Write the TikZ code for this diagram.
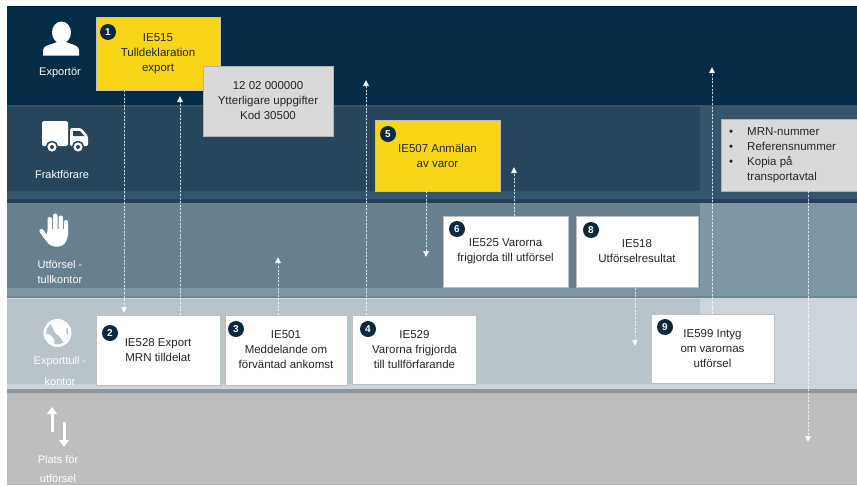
\documentclass[tikz,border=0pt]{standalone}
\usepackage{fontspec}
\setmainfont{Liberation Sans}
\usetikzlibrary{arrows.meta}
\definecolor{navy}{HTML}{052C46}
\definecolor{laneBo}{HTML}{34556B}
\definecolor{laneBi}{HTML}{27465C}
\definecolor{laneBl}{HTML}{22415A}
\definecolor{laneCo}{HTML}{7F97A4}
\definecolor{laneCi}{HTML}{687F8D}
\definecolor{laneCl}{HTML}{6E8696}
\definecolor{laneDo}{HTML}{CDD5DB}
\definecolor{laneDi}{HTML}{B9C3CA}
\definecolor{laneDl}{HTML}{8C979F}
\definecolor{laneE}{HTML}{BEBEBE}
\definecolor{boxyellow}{HTML}{F8D517}
\definecolor{boxgray}{HTML}{D9D9D9}
\definecolor{badgecol}{HTML}{0B2A42}
\definecolor{txtcol}{HTML}{262626}
\begin{document}
\begin{tikzpicture}[x=1pt,y=-1pt,
  boxtext/.style={align=center,text=txtcol,font=\fontsize{11.5}{15}\selectfont,inner sep=0pt},
  ybox/.style={boxtext,fill=boxyellow,draw=black!25,line width=0.6pt},
  gbox/.style={boxtext,fill=boxgray,draw=black!30,line width=0.6pt},
  wbox/.style={boxtext,fill=white,draw=black!25,line width=0.6pt},
  badge/.style={circle,fill=badgecol,text=white,font=\bfseries\fontsize{10}{10}\selectfont,inner sep=0pt,minimum size=16pt},
  lanelbl/.style={text=white,font=\fontsize{11}{13}\selectfont,inner sep=0pt},
  flow/.style={draw=white,draw opacity=0.75,fill=white,line width=0.8pt,dash pattern=on 2pt off 1.6pt,-{Triangle[length=6pt,width=6pt]}},
  iconarrow/.style={white,line width=3pt,-{Triangle[length=7pt,width=10pt]}}]
\useasboundingbox (0,0) rectangle (857,485);
\fill[white] (0,0) rectangle (857,485);
% lanes
\fill[navy] (7,6) rectangle (857,105);
\fill[laneBo] (7,105) rectangle (857,202);
\fill[laneBi] (7,107) rectangle (700,191);
\fill[laneBl] (7,199) rectangle (857,202.5);
\fill[laneCo] (7,202.5) rectangle (857,297);
\fill[laneCi] (7,203) rectangle (700,288);
\fill[laneCl] (7,295.5) rectangle (857,297.5);
\fill[laneDo] (7,297.5) rectangle (857,392);
\fill[laneDi] (7,299) rectangle (700,384);
\fill[laneDl] (7,389) rectangle (857,393);
\fill[laneE] (7,393) rectangle (857,485);
% icon: person
\fill[white] (61.5,32.5) ellipse [x radius=9.5, y radius=11];
\fill[white] (43,55.5) -- (43,50.5) .. controls (43,46.5) and (47,45.5) .. (53,43.5) -- (57,42) -- (66,42) -- (70,43.5) .. controls (76,45.5) and (79,46.5) .. (79,50.5) -- (79,55.5) -- cycle;
% icon: truck
\fill[white,rounded corners=1.5pt] (42,121) rectangle (68,146);
\fill[white,rounded corners=1.5pt] (70,128) -- (81,128) -- (88,136) -- (88,146) -- (70,146) -- cycle;
\fill[laneBi] (73,131) -- (80,131) -- (84.5,136) -- (73,136) -- cycle;
\filldraw[fill=white,draw=laneBi,line width=1.5pt] (52,147) circle (5.5) (78,147) circle (5.5);
\fill[laneBi] (52,147) circle (2) (78,147) circle (2);
% icon: hand
\fill[white,rounded corners=2pt] (47.5,217) rectangle (52,236);
\fill[white,rounded corners=2pt] (53,213.5) rectangle (57.5,236);
\fill[white,rounded corners=2pt] (58.5,215.5) rectangle (63,236);
\fill[white,rounded corners=2pt] (64,220) rectangle (68,237);
\fill[white,rounded corners=4pt] (47.5,229) -- (68,229) -- (68,238) -- (63,246.5) -- (51,246.5) -- (45,240) -- (47.5,234) -- cycle;
\draw[white,line width=4.2pt,line cap=round] (48,240) -- (41.5,231);
% icon: globe
\fill[white] (57.5,333) circle (14);
\begin{scope}
\clip (57.5,333) circle (11.3);
\fill[laneDi] (57.5,333) circle (11.3);
\fill[white,rounded corners=2pt] (50,322) -- (61,320) -- (69,326) -- (65,331) -- (69,337) -- (63,343) -- (60,336) -- (55,333.5) -- (53,328) -- cycle;
\fill[white,rounded corners=2pt] (45,333) -- (51,335) -- (55,341) -- (53,347) -- (45,341) -- cycle;
\end{scope}
% icon: arrows
\draw[iconarrow] (52,432) -- (52,407);
\draw[iconarrow] (64,422) -- (64,447);
% lane labels
\node[lanelbl] (l1) at (60,73) {Exportör};
\node[lanelbl] (l2) at (62,175) {Fraktförare};
\node[lanelbl] (l3a) at (60,264.5) {Utförsel -};
\node[lanelbl] (l3b) at (60,280) {tullkontor};
\node[lanelbl] (l4a) at (60,362) {Exporttull -};
\node[lanelbl] (l4b) at (60,382) {kontor};
\node[lanelbl] (l5a) at (58,460) {Plats för};
\node[lanelbl] (l5b) at (58,479) {utförsel};
% boxes
\node[ybox,minimum width=124pt,minimum height=73pt] (b1) at (158,53.5) {IE515\\Tulldeklaration\\export};
\node[gbox,minimum width=130pt,minimum height=70pt] (g1) at (268,101) {12 02 000000\\Ytterligare uppgifter\\Kod 30500};
\node[ybox,minimum width=125pt,minimum height=71pt] (b5) at (437.5,155.5) {IE507 Anmälan\\av varor};
\node[gbox,anchor=west,minimum width=145pt,minimum height=72pt] (g2) at (721,155) {};
\node[boxtext,anchor=west] (g2t) at (729,154.5) {\begin{tabular}{@{}l@{\hspace{14pt}}l@{}}\textbullet & MRN-nummer\\ \textbullet & Referensnummer\\ \textbullet & Kopia på\\ & transportavtal\end{tabular}};
\node[wbox,minimum width=125pt,minimum height=71pt] (b6) at (505.5,251.5) {IE525 Varorna\\frigjorda till utförsel};
\node[wbox,minimum width=122pt,minimum height=71pt] (b8) at (637,251.5) {IE518\\Utförselresultat};
\node[wbox,minimum width=124pt,minimum height=70pt] (b2) at (158,350) {IE528 Export\\MRN tilldelat};
\node[wbox,minimum width=122pt,minimum height=70pt] (b3) at (286,350) {IE501\\Meddelande om\\förväntad ankomst};
\node[wbox,minimum width=124pt,minimum height=69pt] (b4) at (414.5,349.5) {IE529\\Varorna frigjorda\\till tullförfarande};
\node[wbox,minimum width=123pt,minimum height=69pt] (b9) at (712.5,348.5) {IE599 Intyg\\om varornas\\utförsel};
% badges
\node[badge] (n1) at (108,32) {1};
\node[badge] (n5) at (388,134) {5};
\node[badge] (n6) at (457,229) {6};
\node[badge] (n8) at (591,230) {8};
\node[badge] (n2) at (110,333) {2};
\node[badge] (n3) at (236,329) {3};
\node[badge] (n4) at (368,329) {4};
\node[badge] (n9) at (665,327) {9};
% connector ends
\coordinate (ea) at (124,313);
\coordinate (eb) at (180,96);
\coordinate (ec) at (278,257);
\coordinate (ed) at (366,80);
\coordinate (ee) at (426,257);
\coordinate (ef) at (514,167);
\coordinate (eg) at (635,346);
\coordinate (eh) at (712,67);
\coordinate (ei) at (808,442);
% connectors
\draw[flow] (b1.south -| ea) -- (ea);
\draw[flow] (b2.north -| eb) -- (eb);
\draw[flow] (b3.north -| ec) -- (ec);
\draw[flow] (b4.north -| ed) -- (ed);
\draw[flow] (b5.south -| ee) -- (ee);
\draw[flow] (b6.north -| ef) -- (ef);
\draw[flow] ([yshift=10pt]b8.south -| eg) -- (eg);
\draw[flow] (b9.north -| eh) -- (eh);
\draw[flow] (g2.south -| ei) -- (ei);
\end{tikzpicture}
\end{document}
